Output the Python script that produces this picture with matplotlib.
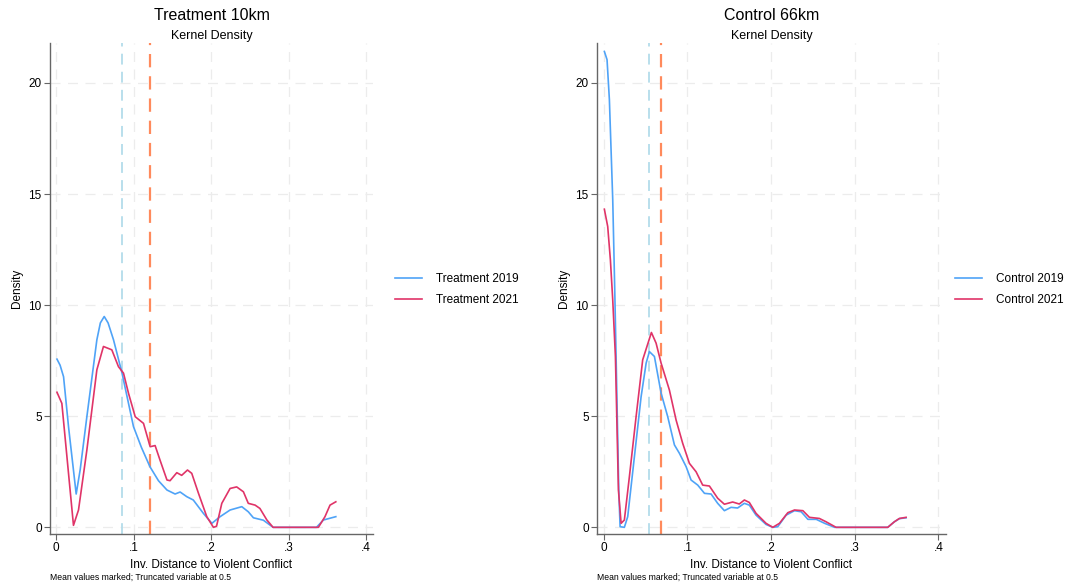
import matplotlib
matplotlib.use("Agg")
import matplotlib.pyplot as plt

plt.rcParams['font.family'] = ['Liberation Sans', 'DejaVu Sans']

# values (x = inverse distance, y = density)
treat19_x = [0.001, 0.005, 0.0095, 0.016, 0.0258, 0.031, 0.0396, 0.0525, 0.057, 0.062,
             0.067, 0.074, 0.085, 0.0998, 0.11, 0.121, 0.132,
             0.143, 0.1535, 0.16, 0.1686, 0.177, 0.190, 0.201, 0.2116, 0.2245, 0.2396,
             0.248, 0.2546, 0.2675, 0.28, 0.336, 0.345, 0.361]
treat19_y = [7.57, 7.3, 6.78, 4.5, 1.5, 2.6, 4.98, 8.44, 9.2, 9.49,
             9.2, 8.44, 6.94, 4.53, 3.6, 2.73, 2.1,
             1.68, 1.5, 1.59, 1.38, 1.23, 0.63, 0.18, 0.48, 0.78, 0.93,
             0.7, 0.43, 0.32, 0.0, 0.0, 0.33, 0.48]

treat21_x = [0.001, 0.0073, 0.0159, 0.0223, 0.0288, 0.0396, 0.0525, 0.061, 0.0718, 0.0804,
             0.0869, 0.0933, 0.102, 0.1127, 0.1213, 0.1277, 0.134, 0.143, 0.147, 0.1557,
             0.162, 0.1695, 0.175, 0.1837, 0.1944, 0.203, 0.207, 0.2138, 0.2245, 0.233,
             0.2417, 0.248, 0.2568, 0.263, 0.272, 0.28, 0.3385, 0.347, 0.3535, 0.361]
treat21_y = [6.08, 5.58, 2.43, 0.09, 0.78, 3.48, 7.09, 8.14, 7.99, 7.23,
             6.94, 6.04, 4.98, 4.68, 3.63, 3.68, 3.03, 2.13, 2.1, 2.46,
             2.34, 2.58, 2.43, 1.53, 0.48, 0.0, 0.05, 1.08, 1.75, 1.82,
             1.6, 1.08, 1.0, 0.85, 0.33, 0.0, 0.0, 0.48, 1.0, 1.15]

ctrl19_x = [0.0008, 0.004, 0.0068, 0.0108, 0.0132, 0.0156, 0.018, 0.0196, 0.0247, 0.0287,
            0.0367, 0.0447, 0.0507, 0.0546, 0.0606, 0.0686, 0.0765, 0.0845, 0.0905, 0.0985,
            0.1044, 0.1124, 0.1204, 0.1283, 0.1362, 0.1442, 0.1522, 0.160, 0.168, 0.174,
            0.182, 0.194, 0.202, 0.208, 0.218, 0.228, 0.236, 0.244, 0.254, 0.264,
            0.276, 0.3394, 0.3473, 0.3533, 0.3613]
ctrl19_y = [21.42, 21.05, 19.25, 14.75, 10.69, 6.18, 1.68, 0.03, 0.0, 0.48,
            3.18, 5.88, 7.39, 7.91, 7.69, 6.04, 4.98, 3.71, 3.33, 2.73,
            2.13, 1.9, 1.53, 1.5, 1.08, 0.75, 0.9, 0.87, 1.08, 1.0,
            0.55, 0.13, 0.0, 0.03, 0.55, 0.75, 0.7, 0.36, 0.36, 0.18,
            0.0, 0.0, 0.25, 0.39, 0.43]

ctrl21_x = [0.0008, 0.0048, 0.008, 0.0108, 0.014, 0.0176, 0.0208, 0.0247, 0.0307, 0.0387,
            0.0466, 0.057, 0.0626, 0.0686, 0.0785, 0.0865, 0.0944, 0.1024, 0.1104, 0.1183,
            0.1263, 0.1362, 0.1442, 0.1541, 0.162, 0.1681, 0.174, 0.182, 0.194, 0.202,
            0.21, 0.22, 0.228, 0.238, 0.2458, 0.2577, 0.2657, 0.2777, 0.3394, 0.3473,
            0.3533, 0.3613]
ctrl21_y = [14.32, 13.54, 12.04, 10.24, 7.69, 1.68, 0.18, 0.33, 2.28, 4.98,
            7.54, 8.77, 8.29, 7.39, 6.18, 4.83, 3.78, 2.88, 2.5, 1.9,
            1.86, 1.31, 1.04, 1.14, 1.05, 1.23, 1.12, 0.63, 0.18, 0.0,
            0.18, 0.66, 0.78, 0.75, 0.45, 0.4, 0.25, 0.0, 0.0, 0.25,
            0.4, 0.45]

# mean values (dashed lines)
treat_means = [0.085, 0.1213]
ctrl_means = [0.0538, 0.068]

x_ticks = [0, 0.1, 0.2, 0.3, 0.4]
x_tick_labels = ["0", ".1", ".2", ".3", ".4"]
y_ticks = [0, 5, 10, 15, 20]

BLUE = "#4fa3f7"
RED = "#e03468"
MEAN_BLUE = "#b3dcea"
MEAN_ORANGE = "#ff8a5c"

W, H = 1065, 585
fig = plt.figure(figsize=(W / 100, H / 100), dpi=100)


def make_panel(left_px, right_px, legend_px, title, data, means, labels):
    ax = fig.add_axes([left_px / W, (H - 534) / H, (right_px - left_px) / W, (534 - 43) / H])
    ax.set_xlim(-0.008, 0.409)
    ax.set_ylim(-0.3, 21.8)

    for v in means[:1]:
        ax.axvline(v, color=MEAN_BLUE, lw=1.3, ls=(0, (6, 4)), zorder=2)
    for v in means[1:]:
        ax.axvline(v, color=MEAN_ORANGE, lw=1.6, ls=(0, (6, 4)), zorder=2)

    (x1, y1), (x2, y2) = data
    ax.plot(x1, y1, color=BLUE, lw=1.2, label=labels[0], zorder=3)
    ax.plot(x2, y2, color=RED, lw=1.2, label=labels[1], zorder=3)

    ax.set_xticks(x_ticks, x_tick_labels)
    ax.set_yticks(y_ticks)
    ax.grid(True, color="#ececec", lw=0.9, ls=(0, (8, 6)), zorder=0)
    ax.set_axisbelow(True)
    for s in ["top", "right"]:
        ax.spines[s].set_visible(False)
    for s in ["left", "bottom"]:
        ax.spines[s].set_color("#666666")
        ax.spines[s].set_linewidth(1.0)
    ax.tick_params(direction="out", length=4, width=0.8, color="#666666",
                   labelsize=8.5, pad=2)

    ax.set_xlabel("Inv. Distance to Violent Conflict", fontsize=8.5, labelpad=3)
    ax.set_ylabel("Density", fontsize=8.5, labelpad=4)

    cx = (left_px + right_px) / 2 / W
    fig.text(cx, 1 - 16 / H, title, ha="center", va="center", fontsize=11.5)
    fig.text(cx, 1 - 36 / H, "Kernel Density", ha="center", va="center", fontsize=9)
    fig.text(left_px / W, 1 - 577 / H, "Mean values marked; Truncated variable at 0.5",
             ha="left", va="center", fontsize=6.2)

    ax.legend(loc="center left", bbox_to_anchor=(legend_px / W, 0.505),
              bbox_transform=fig.transFigure, frameon=False, fontsize=8.5,
              handlelength=2.3, handletextpad=1.2, labelspacing=0.7,
              borderpad=0, borderaxespad=0)
    return ax


make_panel(50, 373, 395, "Treatment 10km",
           [(treat19_x, treat19_y), (treat21_x, treat21_y)],
           treat_means, ["Treatment 2019", "Treatment 2021"])
make_panel(597, 946, 955, "Control 66km",
           [(ctrl19_x, ctrl19_y), (ctrl21_x, ctrl21_y)],
           ctrl_means, ["Control 2019", "Control 2021"])

fig.savefig("out.png", dpi=100)
